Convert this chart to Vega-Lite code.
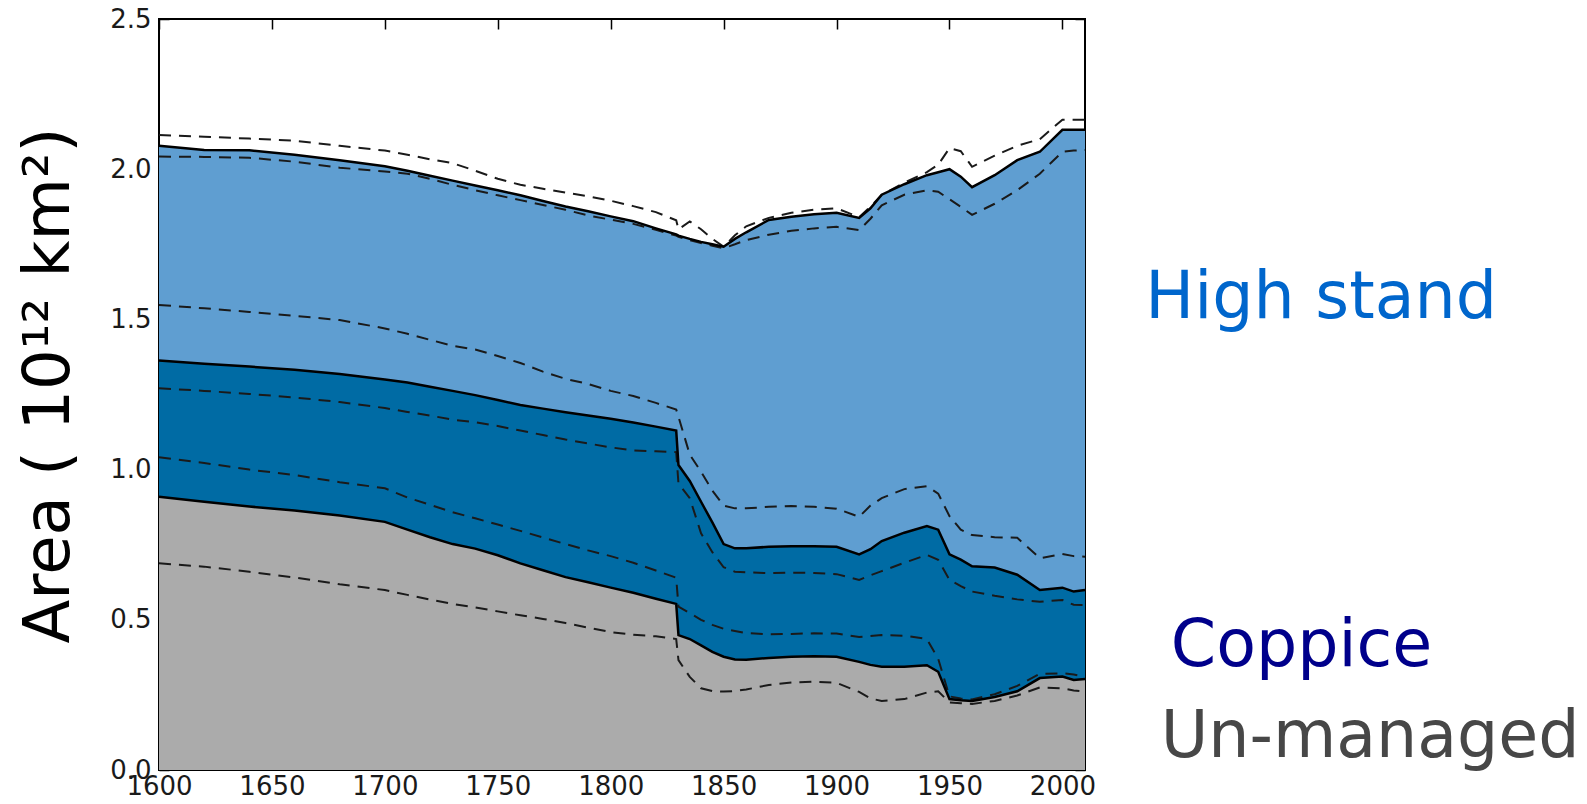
{
  "$schema": "https://vega.github.io/schema/vega-lite/v6.json",
  "width": 926,
  "height": 751,
  "autosize": "none",
  "padding": {"left": 159, "top": 19, "right": 502, "bottom": 34},
  "background": "white",
  "config": {
    "view": {"stroke": "black", "strokeWidth": 2},
    "font": "DejaVu Sans",
    "axis": {
      "labelFont": "DejaVu Sans",
      "labelFontSize": 26,
      "labelColor": "#1a1a1a",
      "labelFlush": false,
      "tickColor": "black",
      "tickWidth": 1.5,
      "tickSize": -10,
      "grid": false,
      "domain": false
    }
  },
  "data": {
    "values": [
      {"year": 1600, "t": 2.078, "t_hi": 2.114, "t_lo": 2.042, "c": 1.363, "c_hi": 1.548, "c_lo": 1.271, "u": 0.910, "u_hi": 1.041, "u_lo": 0.688},
      {"year": 1620, "t": 2.064, "t_hi": 2.108, "t_lo": 2.041, "c": 1.352, "c_hi": 1.537, "c_lo": 1.262, "u": 0.893, "u_hi": 1.022, "u_lo": 0.677},
      {"year": 1640, "t": 2.063, "t_hi": 2.102, "t_lo": 2.038, "c": 1.343, "c_hi": 1.525, "c_lo": 1.252, "u": 0.877, "u_hi": 1.000, "u_lo": 0.660},
      {"year": 1660, "t": 2.048, "t_hi": 2.095, "t_lo": 2.025, "c": 1.332, "c_hi": 1.512, "c_lo": 1.240, "u": 0.864, "u_hi": 0.982, "u_lo": 0.641},
      {"year": 1680, "t": 2.030, "t_hi": 2.078, "t_lo": 2.005, "c": 1.318, "c_hi": 1.498, "c_lo": 1.225, "u": 0.847, "u_hi": 0.958, "u_lo": 0.618},
      {"year": 1700, "t": 2.010, "t_hi": 2.062, "t_lo": 1.992, "c": 1.300, "c_hi": 1.470, "c_lo": 1.205, "u": 0.826, "u_hi": 0.938, "u_lo": 0.599},
      {"year": 1710, "t": 1.995, "t_hi": 2.048, "t_lo": 1.985, "c": 1.290, "c_hi": 1.452, "c_lo": 1.192, "u": 0.800, "u_hi": 0.907, "u_lo": 0.583},
      {"year": 1720, "t": 1.978, "t_hi": 2.033, "t_lo": 1.968, "c": 1.276, "c_hi": 1.432, "c_lo": 1.180, "u": 0.775, "u_hi": 0.883, "u_lo": 0.567},
      {"year": 1730, "t": 1.962, "t_hi": 2.020, "t_lo": 1.948, "c": 1.262, "c_hi": 1.412, "c_lo": 1.166, "u": 0.752, "u_hi": 0.858, "u_lo": 0.553},
      {"year": 1740, "t": 1.946, "t_hi": 1.995, "t_lo": 1.930, "c": 1.248, "c_hi": 1.400, "c_lo": 1.158, "u": 0.737, "u_hi": 0.838, "u_lo": 0.541},
      {"year": 1750, "t": 1.930, "t_hi": 1.968, "t_lo": 1.913, "c": 1.232, "c_hi": 1.378, "c_lo": 1.145, "u": 0.715, "u_hi": 0.817, "u_lo": 0.528},
      {"year": 1760, "t": 1.913, "t_hi": 1.948, "t_lo": 1.897, "c": 1.215, "c_hi": 1.355, "c_lo": 1.130, "u": 0.688, "u_hi": 0.796, "u_lo": 0.515},
      {"year": 1770, "t": 1.894, "t_hi": 1.935, "t_lo": 1.881, "c": 1.203, "c_hi": 1.326, "c_lo": 1.115, "u": 0.665, "u_hi": 0.774, "u_lo": 0.503},
      {"year": 1780, "t": 1.876, "t_hi": 1.922, "t_lo": 1.865, "c": 1.191, "c_hi": 1.302, "c_lo": 1.100, "u": 0.642, "u_hi": 0.752, "u_lo": 0.489},
      {"year": 1790, "t": 1.860, "t_hi": 1.910, "t_lo": 1.846, "c": 1.180, "c_hi": 1.285, "c_lo": 1.087, "u": 0.625, "u_hi": 0.731, "u_lo": 0.474},
      {"year": 1800, "t": 1.843, "t_hi": 1.895, "t_lo": 1.832, "c": 1.169, "c_hi": 1.262, "c_lo": 1.074, "u": 0.607, "u_hi": 0.712, "u_lo": 0.459},
      {"year": 1810, "t": 1.827, "t_hi": 1.877, "t_lo": 1.818, "c": 1.157, "c_hi": 1.245, "c_lo": 1.064, "u": 0.590, "u_hi": 0.690, "u_lo": 0.450},
      {"year": 1820, "t": 1.803, "t_hi": 1.857, "t_lo": 1.798, "c": 1.143, "c_hi": 1.222, "c_lo": 1.061, "u": 0.570, "u_hi": 0.664, "u_lo": 0.445},
      {"year": 1829, "t": 1.783, "t_hi": 1.830, "t_lo": 1.779, "c": 1.130, "c_hi": 1.200, "c_lo": 1.058, "u": 0.553, "u_hi": 0.640, "u_lo": 0.436},
      {"year": 1830, "t": 1.779, "t_hi": 1.800, "t_lo": 1.775, "c": 1.015, "c_hi": 1.176, "c_lo": 0.954, "u": 0.449, "u_hi": 0.544, "u_lo": 0.366},
      {"year": 1835, "t": 1.768, "t_hi": 1.826, "t_lo": 1.764, "c": 0.962, "c_hi": 1.050, "c_lo": 0.905, "u": 0.436, "u_hi": 0.522, "u_lo": 0.310},
      {"year": 1840, "t": 1.758, "t_hi": 1.800, "t_lo": 1.754, "c": 0.893, "c_hi": 0.993, "c_lo": 0.788, "u": 0.415, "u_hi": 0.500, "u_lo": 0.272},
      {"year": 1845, "t": 1.750, "t_hi": 1.768, "t_lo": 1.745, "c": 0.824, "c_hi": 0.930, "c_lo": 0.725, "u": 0.393, "u_hi": 0.483, "u_lo": 0.263},
      {"year": 1850, "t": 1.742, "t_hi": 1.742, "t_lo": 1.737, "c": 0.752, "c_hi": 0.880, "c_lo": 0.675, "u": 0.377, "u_hi": 0.470, "u_lo": 0.261},
      {"year": 1855, "t": 1.768, "t_hi": 1.780, "t_lo": 1.750, "c": 0.738, "c_hi": 0.871, "c_lo": 0.660, "u": 0.368, "u_hi": 0.463, "u_lo": 0.263},
      {"year": 1860, "t": 1.790, "t_hi": 1.810, "t_lo": 1.764, "c": 0.738, "c_hi": 0.871, "c_lo": 0.658, "u": 0.367, "u_hi": 0.456, "u_lo": 0.268},
      {"year": 1870, "t": 1.831, "t_hi": 1.838, "t_lo": 1.782, "c": 0.743, "c_hi": 0.876, "c_lo": 0.655, "u": 0.373, "u_hi": 0.452, "u_lo": 0.283},
      {"year": 1880, "t": 1.842, "t_hi": 1.855, "t_lo": 1.795, "c": 0.745, "c_hi": 0.879, "c_lo": 0.657, "u": 0.377, "u_hi": 0.453, "u_lo": 0.291},
      {"year": 1890, "t": 1.850, "t_hi": 1.865, "t_lo": 1.803, "c": 0.745, "c_hi": 0.876, "c_lo": 0.656, "u": 0.379, "u_hi": 0.455, "u_lo": 0.294},
      {"year": 1900, "t": 1.855, "t_hi": 1.870, "t_lo": 1.808, "c": 0.743, "c_hi": 0.870, "c_lo": 0.652, "u": 0.377, "u_hi": 0.454, "u_lo": 0.290},
      {"year": 1910, "t": 1.838, "t_hi": 1.840, "t_lo": 1.797, "c": 0.718, "c_hi": 0.843, "c_lo": 0.633, "u": 0.360, "u_hi": 0.443, "u_lo": 0.260},
      {"year": 1915, "t": 1.870, "t_hi": 1.875, "t_lo": 1.835, "c": 0.735, "c_hi": 0.880, "c_lo": 0.648, "u": 0.350, "u_hi": 0.446, "u_lo": 0.238},
      {"year": 1920, "t": 1.915, "t_hi": 1.915, "t_lo": 1.880, "c": 0.762, "c_hi": 0.905, "c_lo": 0.662, "u": 0.344, "u_hi": 0.449, "u_lo": 0.230},
      {"year": 1930, "t": 1.950, "t_hi": 1.955, "t_lo": 1.915, "c": 0.790, "c_hi": 0.935, "c_lo": 0.690, "u": 0.344, "u_hi": 0.447, "u_lo": 0.236},
      {"year": 1940, "t": 1.980, "t_hi": 1.990, "t_lo": 1.930, "c": 0.812, "c_hi": 0.945, "c_lo": 0.716, "u": 0.349, "u_hi": 0.436, "u_lo": 0.258},
      {"year": 1945, "t": 1.990, "t_hi": 2.015, "t_lo": 1.925, "c": 0.800, "c_hi": 0.920, "c_lo": 0.700, "u": 0.327, "u_hi": 0.370, "u_lo": 0.262},
      {"year": 1950, "t": 2.000, "t_hi": 2.070, "t_lo": 1.900, "c": 0.718, "c_hi": 0.845, "c_lo": 0.633, "u": 0.236, "u_hi": 0.245, "u_lo": 0.225},
      {"year": 1955, "t": 1.975, "t_hi": 2.060, "t_lo": 1.875, "c": 0.700, "c_hi": 0.800, "c_lo": 0.612, "u": 0.232, "u_hi": 0.238, "u_lo": 0.222},
      {"year": 1960, "t": 1.940, "t_hi": 2.008, "t_lo": 1.848, "c": 0.678, "c_hi": 0.782, "c_lo": 0.594, "u": 0.230, "u_hi": 0.235, "u_lo": 0.220},
      {"year": 1970, "t": 1.980, "t_hi": 2.045, "t_lo": 1.885, "c": 0.674, "c_hi": 0.775, "c_lo": 0.580, "u": 0.243, "u_hi": 0.252, "u_lo": 0.230},
      {"year": 1980, "t": 2.030, "t_hi": 2.078, "t_lo": 1.930, "c": 0.650, "c_hi": 0.773, "c_lo": 0.568, "u": 0.262, "u_hi": 0.280, "u_lo": 0.248},
      {"year": 1990, "t": 2.058, "t_hi": 2.100, "t_lo": 1.985, "c": 0.599, "c_hi": 0.705, "c_lo": 0.560, "u": 0.306, "u_hi": 0.320, "u_lo": 0.275},
      {"year": 2000, "t": 2.131, "t_hi": 2.165, "t_lo": 2.058, "c": 0.607, "c_hi": 0.719, "c_lo": 0.566, "u": 0.311, "u_hi": 0.322, "u_lo": 0.272},
      {"year": 2005, "t": 2.131, "t_hi": 2.165, "t_lo": 2.062, "c": 0.594, "c_hi": 0.712, "c_lo": 0.550, "u": 0.300, "u_hi": 0.318, "u_lo": 0.265},
      {"year": 2010, "t": 2.131, "t_hi": 2.165, "t_lo": 2.064, "c": 0.599, "c_hi": 0.710, "c_lo": 0.549, "u": 0.303, "u_hi": 0.311, "u_lo": 0.261}
    ]
  },
  "layer": [
    {
      "mark": {"type": "area", "color": "#5F9ED1", "opacity": 1},
      "encoding": {
        "x": {"field": "year", "type": "quantitative",
              "scale": {"domain": [1600, 2010], "nice": false, "zero": false},
              "axis": {"orient": "bottom", "values": [1600, 1650, 1700, 1750, 1800, 1850, 1900, 1950, 2000], "format": "d", "title": null, "labelPadding": 13}},
        "y": {"field": "t", "type": "quantitative", "stack": null,
              "scale": {"domain": [0, 2.5], "nice": false},
              "axis": {"orient": "left", "values": [0, 0.5, 1, 1.5, 2, 2.5], "format": ".1f", "labelPadding": 18,
                       "title": "Area ( 10¹² km²)", "titleFont": "DejaVu Sans", "titleFontSize": 64, "titleFontWeight": "normal",
                       "titleColor": "black", "titleAngle": -90, "titleAlign": "center", "titleBaseline": "alphabetic",
                       "titleX": -91, "titleY": 366}}
      }
    },
    {
      "mark": {"type": "area", "color": "#006BA4", "opacity": 1},
      "encoding": {
        "x": {"field": "year", "type": "quantitative",
              "axis": {"orient": "top", "values": [1600, 1650, 1700, 1750, 1800, 1850, 1900, 1950, 2000], "labels": false, "title": null}},
        "y": {"field": "c", "type": "quantitative", "stack": null,
              "axis": {"orient": "right", "values": [0, 0.5, 1, 1.5, 2, 2.5], "labels": false, "title": null}}
      }
    },
    {
      "mark": {"type": "area", "color": "#ABABAB", "opacity": 1},
      "encoding": {
        "x": {"field": "year", "type": "quantitative", "axis": null},
        "y": {"field": "u", "type": "quantitative", "stack": null, "axis": null}
      }
    },
    {
      "transform": [{"fold": ["t_hi", "t_lo", "c_hi", "c_lo", "u_hi", "u_lo"], "as": ["bound", "val"]}],
      "mark": {"type": "line", "color": "#1a1a1a", "strokeWidth": 2, "strokeDash": [12, 8]},
      "encoding": {
        "x": {"field": "year", "type": "quantitative", "axis": null},
        "y": {"field": "val", "type": "quantitative", "axis": null},
        "detail": {"field": "bound", "type": "nominal"}
      }
    },
    {
      "transform": [{"fold": ["t", "c", "u"], "as": ["series", "val"]}],
      "mark": {"type": "line", "color": "black", "strokeWidth": 2.5},
      "encoding": {
        "x": {"field": "year", "type": "quantitative", "axis": null},
        "y": {"field": "val", "type": "quantitative", "axis": null},
        "detail": {"field": "series", "type": "nominal"}
      }
    },
    {
      "data": {
        "values": [
          {"label": "High stand", "year": 2036.7, "value": 1.505},
          {"label": "Coppice", "year": 2048, "value": 0.346},
          {"label": "Un-managed", "year": 2043.5, "value": 0.044}
        ]
      },
      "mark": {"type": "text", "font": "DejaVu Sans", "fontSize": 65, "align": "left", "baseline": "alphabetic", "clip": false},
      "encoding": {
        "x": {"field": "year", "type": "quantitative", "axis": null},
        "y": {"field": "value", "type": "quantitative", "axis": null},
        "text": {"field": "label"},
        "color": {"field": "label", "type": "nominal", "legend": null,
                  "scale": {"domain": ["High stand", "Coppice", "Un-managed"], "range": ["#0066CC", "#00008B", "#474747"]}}
      }
    }
  ],
  "resolve": {"axis": {"x": "independent", "y": "independent"}}
}
